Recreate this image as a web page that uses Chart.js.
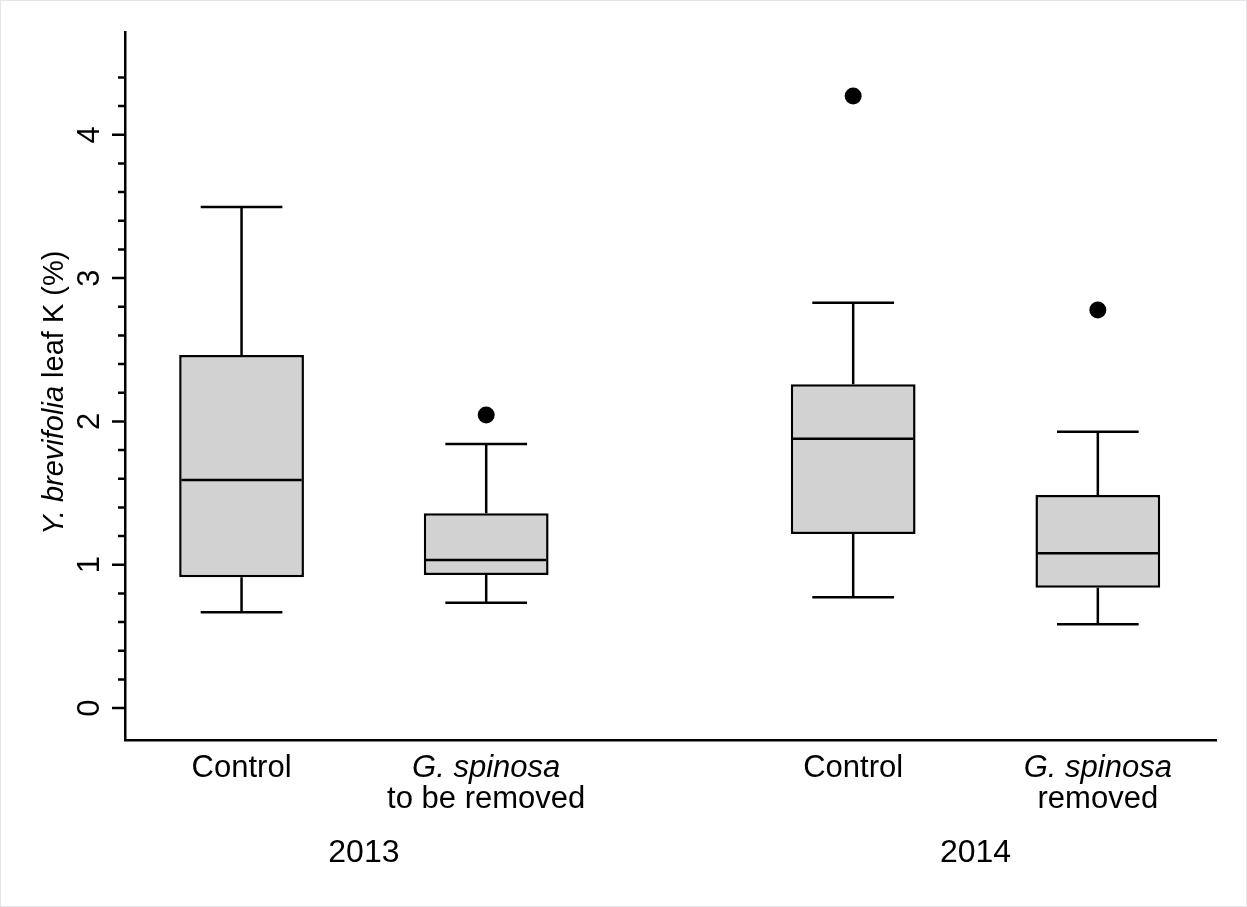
<!DOCTYPE html>
<html>
<head>
<meta charset="utf-8">
<script src="https://cdn.jsdelivr.net/npm/chart.js@4.4.1/dist/chart.umd.min.js"></script>
<style>
  html, body { margin: 0; padding: 0; background: #ffffff; }
  #wrap { position: relative; width: 1247px; height: 907px; }
  #frame { position: absolute; left: 0; top: 0; right: 0; bottom: 0; border: 1px solid #e3e7eb; pointer-events: none; box-sizing: border-box; }
  canvas { display: block; }
</style>
</head>
<body>
<div id="wrap">
  <canvas id="chart" width="1247" height="907"></canvas>
  <div id="frame"></div>
</div>
<script>
// Category labels: optional italic first line (species name) and a plain line.
const categoryItalic = ['', 'G. spinosa', '', 'G. spinosa'];
const categoryPlain = ['Control', 'to be removed', 'Control', 'removed'];
const years = ['2013', '2014'];
const yearMembers = [[0, 1], [2, 3]];

// Five-number summaries of Y. brevifolia leaf K (%)
const whiskerLow  = [0.668, 0.735, 0.773, 0.584];
const quartile1   = [0.912, 0.928, 1.214, 0.840];
const medians     = [1.591, 1.033, 1.879, 1.080];
const quartile3   = [2.463, 1.359, 2.259, 1.486];
const whiskerHigh = [3.496, 1.842, 2.828, 1.928];
const outliers    = [[], [2.045], [4.27], [2.777]];

// Y axis tick values
const yMajorTicks = [0, 1, 2, 3, 4];
const yMinorTicks = [0.2, 0.4, 0.6, 0.8, 1.2, 1.4, 1.6, 1.8, 2.2, 2.4, 2.6, 2.8,
                     3.2, 3.4, 3.6, 3.8, 4.2, 4.4];
const yTitleItalic = 'Y. brevifolia';
const yTitlePlain = ' leaf K (%)';

// Slot of each box along the x axis (wider gap between the two years)
const xSlots = [1, 2, 3.5, 4.5];
const BOX_HALF = 0.25;
const CAP_HALF = 0.167;

const FONT = '"Liberation Sans", Arial, Helvetica, sans-serif';
const INK = '#000000';
const LINE_W = 2.5;

const boxData = xSlots.map((x, i) => ({ x: x, y: [quartile1[i], quartile3[i]] }));
const outlierData = [];
outliers.forEach((list, i) => list.forEach(v => outlierData.push({ x: xSlots[i], y: v })));

const boxPlotPlugin = {
  id: 'boxPlotExtras',
  afterDatasetsDraw(chart) {
    const ctx = chart.ctx;
    const xs = chart.scales.x, ys = chart.scales.y;
    ctx.save();
    ctx.strokeStyle = INK;
    ctx.lineCap = 'butt';
    ctx.lineWidth = LINE_W;
    xSlots.forEach((slot, i) => {
      const cx = xs.getPixelForValue(slot);
      const bl = xs.getPixelForValue(slot - BOX_HALF);
      const br = xs.getPixelForValue(slot + BOX_HALF);
      const cl = xs.getPixelForValue(slot - CAP_HALF);
      const cr = xs.getPixelForValue(slot + CAP_HALF);
      const yLo = ys.getPixelForValue(whiskerLow[i]);
      const yQ1 = ys.getPixelForValue(quartile1[i]);
      const yMed = ys.getPixelForValue(medians[i]);
      const yQ3 = ys.getPixelForValue(quartile3[i]);
      const yHi = ys.getPixelForValue(whiskerHigh[i]);
      ctx.beginPath();
      // whiskers
      ctx.moveTo(cx, yQ3); ctx.lineTo(cx, yHi);
      ctx.moveTo(cx, yQ1); ctx.lineTo(cx, yLo);
      // caps
      ctx.moveTo(cl, yHi); ctx.lineTo(cr, yHi);
      ctx.moveTo(cl, yLo); ctx.lineTo(cr, yLo);
      // median
      ctx.moveTo(bl + 1, yMed); ctx.lineTo(br - 1, yMed);
      ctx.stroke();
    });
    ctx.restore();
  },
  afterDraw(chart) {
    const ctx = chart.ctx;
    const xs = chart.scales.x, ys = chart.scales.y;
    const axisX = chart.chartArea.left;
    ctx.save();
    ctx.strokeStyle = INK;
    ctx.fillStyle = INK;
    ctx.lineWidth = LINE_W;
    // y tick marks
    ctx.beginPath();
    yMajorTicks.forEach(v => {
      const y = ys.getPixelForValue(v);
      ctx.moveTo(axisX - 13, y); ctx.lineTo(axisX, y);
    });
    yMinorTicks.forEach(v => {
      const y = ys.getPixelForValue(v);
      ctx.moveTo(axisX - 7, y); ctx.lineTo(axisX, y);
    });
    ctx.stroke();
    // y tick labels, rotated
    ctx.font = '31px ' + FONT;
    ctx.textAlign = 'center';
    ctx.textBaseline = 'alphabetic';
    yMajorTicks.forEach(v => {
      const y = ys.getPixelForValue(v);
      ctx.save();
      ctx.translate(axisX - 26, y);
      ctx.rotate(-Math.PI / 2);
      ctx.fillText(String(v), 0, 0);
      ctx.restore();
    });
    // y axis title (italic species name + plain text)
    const titleSize = 29;
    const fItal = 'italic ' + titleSize + 'px ' + FONT;
    const fPlain = titleSize + 'px ' + FONT;
    ctx.font = fItal;
    const w1 = ctx.measureText(yTitleItalic).width;
    ctx.font = fPlain;
    const w2 = ctx.measureText(yTitlePlain).width;
    const titleCenter = ys.getPixelForValue(2.2);
    ctx.save();
    ctx.translate(63, titleCenter);
    ctx.rotate(-Math.PI / 2);
    ctx.textAlign = 'left';
    ctx.font = fItal;
    ctx.fillText(yTitleItalic, -(w1 + w2) / 2, 0);
    ctx.font = fPlain;
    ctx.fillText(yTitlePlain, -(w1 + w2) / 2 + w1, 0);
    ctx.restore();
    // category labels
    const base = chart.chartArea.bottom;
    ctx.textAlign = 'center';
    xSlots.forEach((slot, i) => {
      const cx = xs.getPixelForValue(slot);
      if (categoryItalic[i]) {
        ctx.font = 'italic 31px ' + FONT;
        ctx.fillText(categoryItalic[i], cx, base + 37);
        ctx.font = '31px ' + FONT;
        ctx.fillText(categoryPlain[i], cx, base + 68);
      } else {
        ctx.font = '31px ' + FONT;
        ctx.fillText(categoryPlain[i], cx, base + 37);
      }
    });
    // year labels centred under their pair of boxes
    ctx.font = '32px ' + FONT;
    years.forEach((yr, g) => {
      const m = yearMembers[g];
      const cx = (xs.getPixelForValue(xSlots[m[0]]) + xs.getPixelForValue(xSlots[m[m.length - 1]])) / 2;
      ctx.fillText(yr, cx, base + 122);
    });
    ctx.restore();
  }
};

new Chart(document.getElementById('chart'), {
  type: 'bar',
  data: {
    datasets: [
      {
        type: 'bar',
        data: boxData,
        backgroundColor: '#d2d2d2',
        borderColor: INK,
        borderWidth: 2.5,
        borderSkipped: false,
        barPercentage: 0.51,
        categoryPercentage: 1,
        order: 2
      },
      {
        type: 'scatter',
        data: outlierData,
        pointRadius: 8.5,
        pointHoverRadius: 8.5,
        pointBackgroundColor: INK,
        pointBorderWidth: 0,
        order: 1
      }
    ]
  },
  options: {
    responsive: false,
    animation: false,
    devicePixelRatio: 1,
    layout: { padding: { top: 32, right: 31, left: 0, bottom: 0 } },
    plugins: { legend: { display: false }, tooltip: { enabled: false } },
    events: [],
    scales: {
      x: {
        type: 'linear',
        min: 0.5236,
        max: 4.983,
        offset: false,
        grid: { display: false },
        ticks: { display: false },
        border: { display: true, color: INK, width: LINE_W },
        afterBuildTicks(s) { s.ticks = xSlots.map(v => ({ value: v })); },
        afterFit(s) { s.height = 167; }
      },
      y: {
        type: 'linear',
        min: -0.223,
        max: 4.717,
        grid: { display: false },
        ticks: { display: false },
        border: { display: true, color: INK, width: LINE_W },
        afterFit(s) { s.width = 125; }
      }
    }
  },
  plugins: [boxPlotPlugin]
});
</script>
</body>
</html>
